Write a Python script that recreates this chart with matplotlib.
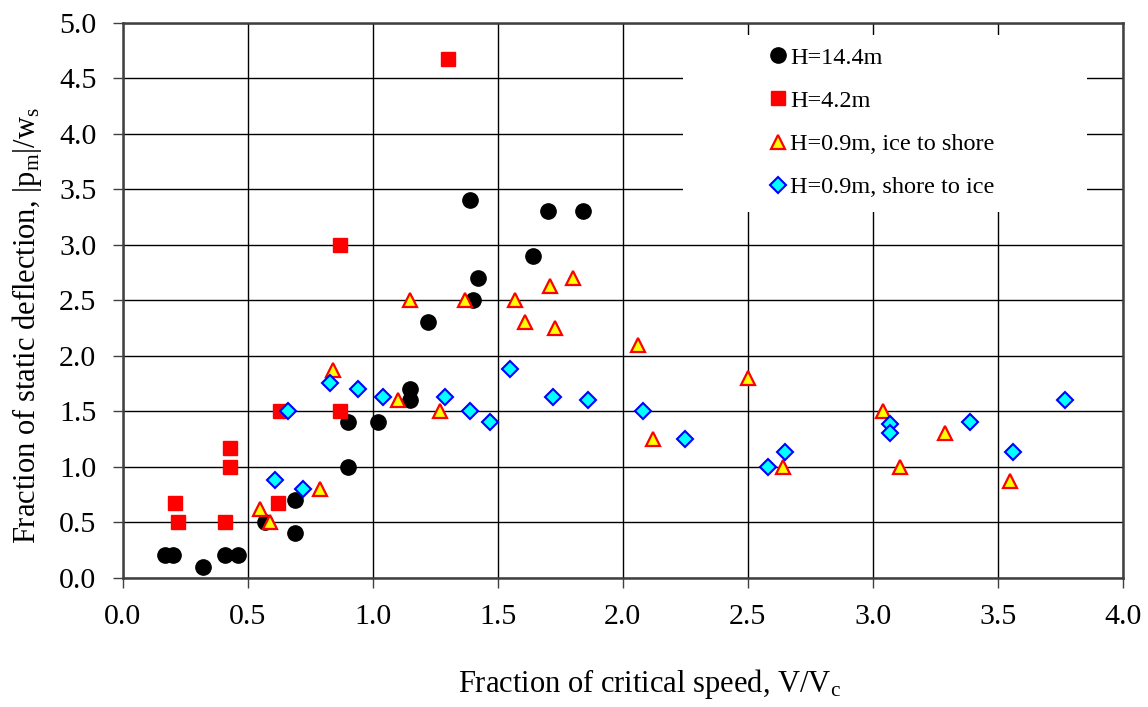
"""Scatter of static deflection fraction against critical speed fraction."""
import matplotlib
matplotlib.use('Agg')
import matplotlib.pyplot as plt
from matplotlib.patches import Rectangle

# H=14.4m
h144_x = [0.17, 0.20, 0.32, 0.41, 0.46, 0.57, 0.69, 0.69, 0.90, 0.90, 1.02,
          1.15, 1.15, 1.22, 1.40, 1.42, 1.39, 1.64, 1.70, 1.84]
h144_y = [0.2, 0.2, 0.1, 0.2, 0.2, 0.5, 0.4, 0.7, 1.0, 1.4, 1.4,
          1.6, 1.7, 2.3, 2.5, 2.7, 3.4, 2.9, 3.3, 3.3]
# H=4.2m
h42_x = [0.21, 0.22, 0.43, 0.43, 0.41, 0.62, 0.63, 0.87, 0.87, 1.30]
h42_y = [0.67, 0.5, 1.17, 1.0, 0.5, 0.67, 1.5, 1.5, 3.0, 4.67]
# H=0.9m, ice to shore
ice_x = [0.55, 0.59, 0.79, 0.84, 1.15, 1.37, 1.57, 1.71, 1.80, 1.61, 1.73,
         1.10, 1.27, 2.06, 2.50, 2.12, 2.64, 3.04, 3.29, 3.11, 3.55]
ice_y = [0.62, 0.5, 0.8, 1.87, 2.5, 2.5, 2.5, 2.63, 2.7, 2.3, 2.25,
         1.6, 1.5, 2.1, 1.8, 1.25, 1.0, 1.5, 1.3, 1.0, 0.87]
# H=0.9m, shore to ice
shore_x = [0.66, 0.61, 0.72, 0.83, 0.94, 1.04, 1.29, 1.39, 1.47, 1.55, 1.72,
           1.86, 2.08, 2.25, 2.58, 2.65, 3.07, 3.07, 3.39, 3.56, 3.77]
shore_y = [1.5, 0.88, 0.8, 1.75, 1.7, 1.63, 1.63, 1.5, 1.4, 1.88, 1.63,
           1.6, 1.5, 1.25, 1.0, 1.13, 1.38, 1.3, 1.4, 1.13, 1.6]

x_ticks = [0.0, 0.5, 1.0, 1.5, 2.0, 2.5, 3.0, 3.5, 4.0]
y_ticks = [0.0, 0.5, 1.0, 1.5, 2.0, 2.5, 3.0, 3.5, 4.0, 4.5, 5.0]


def main():
    plt.rcParams['font.family'] = ['Liberation Serif', 'DejaVu Serif']
    plt.rcParams['mathtext.fontset'] = 'custom'
    plt.rcParams['mathtext.rm'] = 'Liberation Serif'
    plt.rcParams['mathtext.it'] = 'Liberation Serif:italic'

    fig = plt.figure(figsize=(11.48, 7.07), dpi=100)
    ax = fig.add_axes([0.107, 0.183, 0.871, 0.785])

    ax.plot(h144_x, h144_y, 'o', color='black', ms=11, ls='none',
            label='H=14.4m', zorder=3)
    ax.plot(h42_x, h42_y, 's', color='#ff0000', ms=10.5, ls='none',
            label='H=4.2m', zorder=3)
    ax.plot(ice_x, ice_y, '^', mfc='#ffff00', mec='#ff0000', mew=1.6,
            ms=10, ls='none', label='H=0.9m, ice to shore', zorder=3)
    ax.plot(shore_x, shore_y, 'D', mfc='#00ffff', mec='#0000ff', mew=1.5,
            ms=7.8, ls='none', label='H=0.9m, shore to ice', zorder=3)

    ax.set_xlim(0, 4.0)
    ax.set_ylim(0, 5.0)
    ax.set_xticks(x_ticks)
    ax.set_yticks(y_ticks)
    ax.set_xticklabels([f'{v:.1f}' for v in x_ticks])
    ax.set_yticklabels([f'{v:.1f}' for v in y_ticks])
    ax.tick_params(direction='out', length=7, width=1, labelsize=21.5,
                   color='#404040', pad=12)
    ax.set_axisbelow(True)
    ax.grid(True, color='black', lw=1)
    for spine in ax.spines.values():
        spine.set_color('#404040')
        spine.set_linewidth(1.8)

    ax.set_xlabel(r'Fraction of critical speed, V/V$_\mathrm{c}$', fontsize=22)
    ax.set_ylabel(r'Fraction of static deflection, |p$_\mathrm{m}$|/w$_\mathrm{s}$',
                  fontsize=22)
    ax.xaxis.set_label_coords(0.527, -0.161)
    ax.yaxis.set_label_coords(-0.079, 0.455)

    # white box behind the legend, hides the grid there
    ax.add_patch(Rectangle((0.56, 0.659), 0.404, 0.319, transform=ax.transAxes,
                           facecolor='white', edgecolor='none', zorder=1))
    ax.legend(loc='upper left', bbox_to_anchor=(0.633, 0.974), frameon=False,
              fontsize=17.5, handletextpad=0.0, labelspacing=0.87,
              handlelength=1.0, markerscale=1.0, borderaxespad=0)

    plt.savefig('out.png', dpi=100)


if __name__ == '__main__':
    main()
